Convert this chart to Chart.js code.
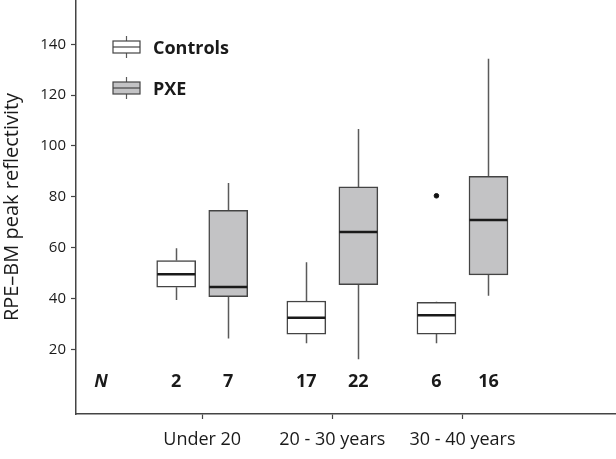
<!DOCTYPE html>
<html>
<head>
<meta charset="utf-8">
<script src="https://cdn.jsdelivr.net/npm/chart.js@4.4.1/dist/chart.umd.min.js"></script>
<style>
html,body{margin:0;padding:0;background:#fff;}
#c{display:block;}
</style>
</head>
<body>
<canvas id="c" width="616" height="459"></canvas>
<script>
// ---- data ----
const categories = ['Under 20', '20 - 30 years', '30 - 40 years'];
const seriesNames = ['Controls', 'PXE'];
const controlsMin    = [39.4, 22.4, 22.4];
const controlsQ1     = [44.4, 26.0, 26.0];
const controlsMedian = [49.5, 32.4, 33.4];
const controlsQ3     = [54.9, 39.0, 38.5];
const controlsMax    = [59.8, 54.3, 38.7];
const controlsOutliers = [[], [], [80.4]];
const pxeMin    = [24.3, 16.1, 41.1];
const pxeQ1     = [40.7, 45.4, 49.3];
const pxeMedian = [44.5, 66.2, 70.9];
const pxeQ3     = [74.7, 83.9, 88.1];
const pxeMax    = [85.4, 106.7, 134.3];
const controlsN = [2, 17, 6];
const pxeN      = [7, 22, 16];
const yTicks = [20, 40, 60, 80, 100, 120, 140];

// ---- layout / style ----
const OFFSET = 0.2;
const FONT = '"Open Sans", "DejaVu Sans", sans-serif';
const AXIS = '#444';
const TEXT = '#1a1a1a';
const PXE_FILL = '#c3c3c5';

function boxData(q1, q3, sign) {
  return categories.map((c, i) => ({ x: i + 1 + sign * OFFSET, y: [q1[i], q3[i]] }));
}
const outlierPts = [];
controlsOutliers.forEach((arr, i) => arr.forEach(v => outlierPts.push({ x: i + 1 - OFFSET, y: v })));

const stats = [
  { min: controlsMin, med: controlsMedian, max: controlsMax, q1: controlsQ1, q3: controlsQ3, sign: -1, n: controlsN },
  { min: pxeMin, med: pxeMedian, max: pxeMax, q1: pxeQ1, q3: pxeQ3, sign: 1, n: pxeN }
];

const boxPlugin = {
  id: 'boxplot',
  beforeDatasetsDraw(chart) {
    const { ctx, scales: { x, y } } = chart;
    ctx.save();
    ctx.strokeStyle = '#5a5a5a';
    ctx.lineWidth = 1.5;
    stats.forEach(s => {
      categories.forEach((c, i) => {
        const px = Math.round(x.getPixelForValue(i + 1 + s.sign * OFFSET)) + 0.5;
        ctx.beginPath();
        ctx.moveTo(px, y.getPixelForValue(s.max[i]));
        ctx.lineTo(px, y.getPixelForValue(s.q3[i]));
        ctx.moveTo(px, y.getPixelForValue(s.q1[i]));
        ctx.lineTo(px, y.getPixelForValue(s.min[i]));
        ctx.stroke();
      });
    });
    ctx.restore();
  },
  afterDatasetsDraw(chart) {
    const { ctx, scales: { x, y } } = chart;
    ctx.save();
    // medians
    ctx.strokeStyle = '#1a1a1a';
    ctx.lineWidth = 2.5;
    stats.forEach(s => {
      categories.forEach((c, i) => {
        const px = x.getPixelForValue(i + 1 + s.sign * OFFSET);
        const py = y.getPixelForValue(s.med[i]);
        ctx.beginPath();
        ctx.moveTo(px - 19, py);
        ctx.lineTo(px + 19, py);
        ctx.stroke();
      });
    });
    // N row
    const ny = chart.chartArea.bottom - 32;
    ctx.fillStyle = TEXT;
    ctx.textBaseline = 'middle';
    ctx.textAlign = 'center';
    ctx.font = 'italic bold 18px ' + FONT;
    ctx.fillText('N', 101, ny);
    ctx.font = 'bold 18px ' + FONT;
    stats.forEach(s => {
      categories.forEach((c, i) => {
        ctx.fillText(String(s.n[i]), x.getPixelForValue(i + 1 + s.sign * OFFSET), ny);
      });
    });
    // legend
    const items = [
      { label: seriesNames[0], fill: '#ffffff', cy: 47 },
      { label: seriesNames[1], fill: PXE_FILL, cy: 88 }
    ];
    items.forEach(it => {
      const lx = 113, w = 27, h = 12;
      ctx.strokeStyle = '#5a5a5a';
      ctx.lineWidth = 1.2;
      ctx.beginPath();
      ctx.moveTo(lx + w / 2, it.cy - h / 2 - 5);
      ctx.lineTo(lx + w / 2, it.cy + h / 2 + 5);
      ctx.stroke();
      ctx.fillStyle = it.fill;
      ctx.fillRect(lx, it.cy - h / 2, w, h);
      ctx.strokeStyle = '#444';
      ctx.strokeRect(lx, it.cy - h / 2, w, h);
      ctx.beginPath();
      ctx.moveTo(lx, it.cy);
      ctx.lineTo(lx + w, it.cy);
      ctx.stroke();
      ctx.fillStyle = TEXT;
      ctx.textAlign = 'left';
      ctx.font = 'bold 18px ' + FONT;
      ctx.fillText(it.label, 153, it.cy + 2);
    });
    ctx.restore();
  }
};

new Chart(document.getElementById('c'), {
  type: 'bar',
  data: {
    datasets: [
      { label: seriesNames[0], data: boxData(controlsQ1, controlsQ3, -1), backgroundColor: '#ffffff',
        borderColor: '#444', borderWidth: 1.5, borderSkipped: false, barThickness: 39, grouped: false, order: 2 },
      { label: seriesNames[1], data: boxData(pxeQ1, pxeQ3, 1), backgroundColor: PXE_FILL,
        borderColor: '#444', borderWidth: 1.5, borderSkipped: false, barThickness: 39, grouped: false, order: 2 },
      { type: 'scatter', label: 'outliers', data: outlierPts, pointRadius: 2.3, pointHoverRadius: 2.3, pointBackgroundColor: '#111',
        pointBorderColor: '#111', order: 1 }
    ]
  },
  options: {
    responsive: false,
    animation: false,
    devicePixelRatio: 1,
    layout: { padding: 0, autoPadding: false },
    plugins: { legend: { display: false }, tooltip: { enabled: false } },
    scales: {
      x: {
        type: 'linear', min: 0.03, max: 4.18, offset: false,
        afterBuildTicks: s => { s.ticks = categories.map((c, i) => ({ value: i + 1 })); },
        afterFit: s => { s.height = 45; s.paddingLeft = 0; s.paddingRight = 0; },
        ticks: { callback: (v, i) => categories[i], font: { family: FONT, size: 18 }, color: TEXT, padding: 10, maxRotation: 0, autoSkip: false },
        grid: { drawOnChartArea: false, drawTicks: true, tickLength: 5, color: AXIS, tickWidth: 1.2, offset: false },
        border: { color: AXIS, width: 1.5 }
      },
      y: {
        type: 'linear', min: -5.45, max: 157.43,
        afterBuildTicks: s => { s.ticks = yTicks.map(v => ({ value: v })); },
        afterFit: s => { s.width = 76; s.paddingTop = 0; s.paddingBottom = 0; },
        ticks: { font: { family: FONT, size: 15 }, color: TEXT, padding: 5 },
        grid: { drawOnChartArea: false, drawTicks: true, tickLength: 5, color: AXIS, tickWidth: 1.2 },
        border: { color: AXIS, width: 1.5 },
        title: { display: true, text: 'RPE–BM peak reflectivity', font: { family: FONT, size: 20 }, color: TEXT, padding: { top: 0, bottom: 2 } }
      }
    }
  },
  plugins: [boxPlugin]
});
</script>
</body>
</html>
